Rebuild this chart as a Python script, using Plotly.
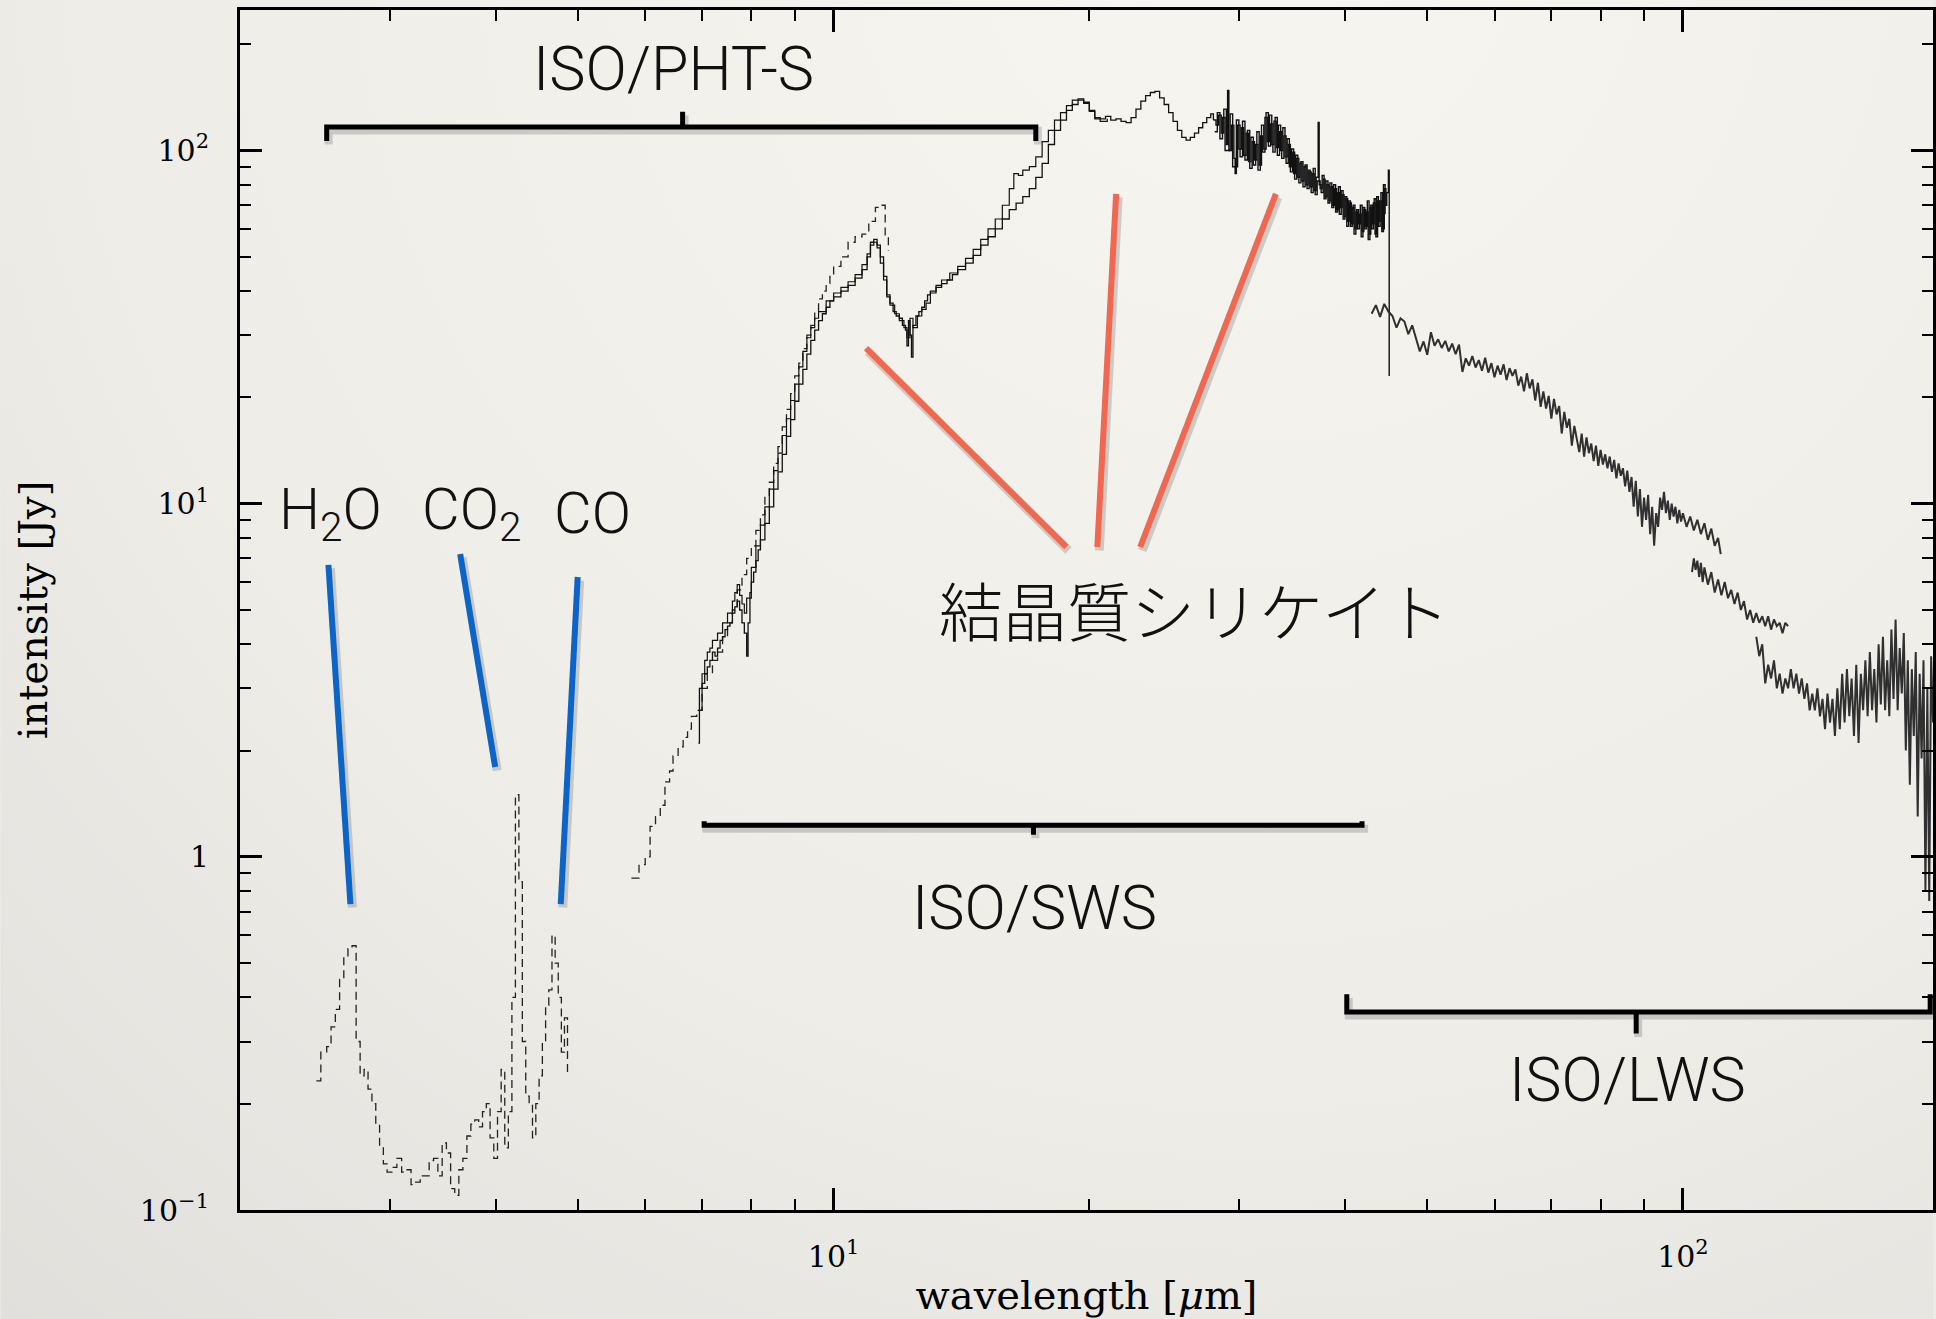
import base64
import numpy as np
import plotly.graph_objects as go

# ---------------------------------------------------------------
# ISO spectrum: wavelength [um] against flux density [Jy]
# ---------------------------------------------------------------

# PHT-S, short-wavelength channel (2.5 - 4.9 um)
phts_ss_wl = [2.46, 2.49, 2.53, 2.56, 2.59, 2.62, 2.65, 2.68, 2.71, 2.74,
              2.77, 2.80, 2.83, 2.86, 2.89, 2.92, 2.95, 2.98, 3.02, 3.06,
              3.10, 3.14, 3.18, 3.22, 3.26, 3.30, 3.34, 3.38, 3.42, 3.46,
              3.50, 3.54, 3.58, 3.62, 3.66, 3.70, 3.74, 3.78, 3.82, 3.86,
              3.90, 3.94, 3.98, 4.02, 4.06, 4.10, 4.14, 4.18, 4.22, 4.26,
              4.30, 4.34, 4.38, 4.42, 4.46, 4.50, 4.54, 4.58, 4.62, 4.66,
              4.70, 4.74, 4.78, 4.82, 4.86]
phts_ss_jy = [0.232, 0.28, 0.29, 0.33, 0.37, 0.45, 0.52, 0.55, 0.56, 0.30,
              0.24, 0.25, 0.22, 0.20, 0.175, 0.15, 0.135, 0.128, 0.132, 0.14,
              0.128, 0.13, 0.118, 0.12, 0.125, 0.125, 0.138, 0.14, 0.125, 0.155,
              0.145, 0.115, 0.11, 0.13, 0.14, 0.162, 0.175, 0.18, 0.172, 0.19,
              0.2, 0.16, 0.14, 0.19, 0.25, 0.15, 0.19, 0.4, 1.5, 0.85,
              0.3, 0.21, 0.2, 0.16, 0.2, 0.24, 0.3, 0.38, 0.42, 0.6,
              0.5, 0.4, 0.28, 0.35, 0.24]

# PHT-S, long-wavelength channel (5.8 - 11.6 um)
phts_sl_wl = [5.78, 5.9, 6.0, 6.08, 6.17, 6.25, 6.33, 6.41, 6.47, 6.56,
              6.65, 6.73, 6.8, 6.9, 7.0, 7.1, 7.2, 7.3, 7.4, 7.5,
              7.6, 7.7, 7.8, 7.9, 8.0, 8.1, 8.2, 8.3, 8.4, 8.5,
              8.6, 8.7, 8.8, 8.9, 9.0, 9.1, 9.2, 9.3, 9.4, 9.5,
              9.6, 9.7, 9.8, 9.9, 10.0, 10.2, 10.4, 10.6, 10.8, 11.0,
              11.2, 11.35, 11.5, 11.6]
phts_sl_jy = [0.87, 0.95, 1.0, 1.22, 1.3, 1.4, 1.63, 1.75, 1.93, 2.05,
              2.18, 2.3, 2.5, 2.6, 3.0, 3.3, 3.6, 3.8, 4.2, 4.6,
              5.0, 5.7, 6.3, 7.0, 7.6, 8.4, 9.3, 10.5, 11.5, 13.0,
              14.5, 16.5, 18.5, 20.5, 23.0, 25.0, 27.5, 30.0, 32.0, 35.0,
              38.0, 40.0, 42.0, 44.0, 47.0, 50.0, 55.0, 57.0, 58.0, 63.0,
              69.0, 70.0, 57.0, 52.0]

# SWS, first scan (6.9 - 28 um)
sws_a_wl = [6.93, 6.95, 7.0, 7.05, 7.1, 7.15, 7.2, 7.25, 7.3, 7.35,
            7.4, 7.45, 7.5, 7.55, 7.6, 7.65, 7.7, 7.75, 7.8, 7.85,
            7.9, 7.93, 7.97, 8.0, 8.05, 8.1, 8.15, 8.2, 8.3, 8.4,
            8.5, 8.6, 8.7, 8.8, 8.9, 9.0, 9.1, 9.2, 9.3, 9.4,
            9.5, 9.6, 9.7, 9.8, 9.9, 10.0, 10.2, 10.4, 10.6, 10.8,
            10.95, 11.05, 11.15, 11.25, 11.35, 11.45, 11.55, 11.65, 11.75, 11.85,
            11.95, 12.05, 12.15, 12.2, 12.25, 12.3, 12.35, 12.4, 12.5, 12.6,
            12.7, 12.8, 12.9, 13.0, 13.2, 13.4, 13.6, 13.8, 14.0, 14.3,
            14.6, 14.9, 15.2, 15.5, 15.8, 16.1, 16.4, 16.7, 17.0, 17.3,
            17.6, 17.9, 18.2, 18.5, 18.8, 19.1, 19.4, 19.7, 20.0, 20.3,
            20.6, 20.9, 21.2, 21.5, 21.8, 22.1, 22.4, 22.7, 23.0, 23.3,
            23.6, 23.9, 24.2, 24.5, 24.8, 25.1, 25.4, 25.7, 26.0, 26.3,
            26.6, 26.9, 27.2, 27.5, 27.8, 28.0]
sws_a_jy = [2.1, 3.0, 3.1, 3.3, 3.45, 3.6, 3.8, 3.7, 3.9, 4.1,
            4.2, 4.4, 4.5, 4.6, 4.9, 5.1, 5.3, 5.0, 4.6, 4.3,
            3.7, 4.6, 5.6, 6.0, 6.4, 6.9, 7.4, 7.9, 8.8, 9.8,
            11.0, 12.3, 13.8, 15.5, 17.3, 19.5, 21.8, 24.0, 26.5, 29.0,
            31.0, 33.0, 34.5, 36.0, 37.5, 38.5, 40.0, 41.5, 43.5, 46.0,
            50.0, 55.0, 56.0, 54.0, 50.0, 44.0, 39.0, 37.0, 35.0, 34.0,
            33.5, 32.0, 31.0, 28.0, 33.0, 30.0, 26.0, 32.0, 34.0, 35.0,
            36.0, 37.5, 39.0, 40.0, 41.0, 42.0, 43.0, 44.5, 46.0, 48.0,
            50.5, 54.0, 57.0, 60.0, 64.0, 68.0, 71.0, 74.0, 78.0, 84.0,
            92.0, 104.0, 114.0, 122.0, 130.0, 135.0, 139.0, 137.0, 130.0, 124.0,
            123.0, 125.0, 122.0, 123.0, 121.0, 120.0, 124.0, 131.0, 138.0, 143.0,
            146.0, 147.0, 141.0, 135.0, 128.0, 121.0, 114.0, 109.0, 107.0, 109.0,
            112.0, 116.0, 120.0, 124.0, 127.0, 122.0]

# SWS, second scan (6.9 - 21 um)
sws_b_wl = [6.95, 7.0, 7.05, 7.1, 7.15, 7.2, 7.3, 7.4, 7.5, 7.6,
            7.65, 7.7, 7.75, 7.8, 7.85, 7.9, 8.0, 8.1, 8.2, 8.3,
            8.4, 8.5, 8.6, 8.7, 8.8, 8.9, 9.0, 9.1, 9.2, 9.3,
            9.4, 9.5, 9.6, 9.8, 10.0, 10.2, 10.4, 10.6, 10.8, 10.95,
            11.05, 11.15, 11.25, 11.35, 11.45, 11.55, 11.65, 11.8, 11.95, 12.1,
            12.2, 12.3, 12.4, 12.55, 12.7, 12.85, 13.0, 13.2, 13.4, 13.7,
            14.0, 14.3, 14.6, 14.9, 15.2, 15.5, 15.8, 16.1, 16.3, 16.5,
            16.7, 17.0, 17.3, 17.6, 17.9, 18.2, 18.5, 18.8, 19.1, 19.4,
            19.7, 20.0, 20.3, 20.6, 21.0]
sws_b_jy = [2.6, 3.3, 3.6, 3.8, 3.9, 4.1, 4.3, 4.6, 4.9, 5.3,
            5.6, 5.9, 5.5, 5.2, 4.9, 5.4, 6.6, 7.6, 8.7, 9.8,
            11.0, 12.4, 13.9, 15.6, 17.4, 19.6, 21.8, 24.4, 27.0, 29.5,
            31.5, 33.5, 35.0, 37.5, 39.5, 41.0, 42.5, 44.5, 47.5, 51.0,
            54.0, 55.0, 53.0, 48.0, 43.0, 38.5, 36.5, 34.5, 33.0, 31.5,
            29.5, 33.5, 31.5, 34.0, 35.5, 37.0, 39.5, 41.5, 43.0, 45.0,
            47.0, 49.5, 52.5, 56.0, 60.0, 64.0, 70.0, 78.0, 86.0, 85.0,
            88.0, 90.0, 96.0, 106.0, 114.0, 122.0, 128.0, 134.0, 139.0, 140.0,
            136.0, 129.0, 123.0, 121.0, 123.0]

# SWS band 4 (28 - 45 um), two noisy scans
sws_b4a_wl = [28.0, 28.2, 28.4, 28.6, 28.8, 29.0, 29.1, 29.2, 29.4, 29.6,
              29.7, 29.8, 30.0, 30.2, 30.4, 30.6, 30.8, 31.0, 31.2, 31.4,
              31.6, 31.8, 32.0, 32.2, 32.4, 32.6, 32.8, 33.0, 33.2, 33.4,
              33.6, 33.8, 34.0, 34.2, 34.4, 34.6, 34.8, 35.0, 35.2, 35.4,
              35.6, 35.8, 36.0, 36.2, 36.4, 36.6, 36.8, 37.0, 37.2, 37.3,
              37.5, 37.7, 37.9, 38.1, 38.3, 38.5, 38.7, 38.9, 39.1, 39.3,
              39.5, 39.7, 39.9, 40.1, 40.3, 40.5, 40.7, 40.9, 41.1, 41.3,
              41.5, 41.7, 41.9, 42.1, 42.3, 42.5, 42.7, 42.9, 43.1, 43.3,
              43.5, 43.7, 43.9, 44.1, 44.3, 44.5, 44.7, 44.8, 45.0, 45.1]
sws_b4a_jy = [122, 118, 126, 112, 131, 104, 148, 100, 118, 95,
              86, 122, 101, 116, 97, 112, 93, 109, 91, 104,
              88, 110, 99, 124, 106, 126, 104, 121, 102, 118,
              100, 116, 96, 108, 90, 101, 86, 97, 84, 92,
              82, 90, 80, 88, 79, 86, 77, 84, 120, 80,
              76, 83, 74, 80, 72, 79, 70, 78, 68, 79,
              69, 75, 65, 73, 63, 71, 62, 70, 60, 68,
              62, 70, 59, 68, 61, 72, 58, 70, 62, 73,
              57, 72, 63, 76, 60, 78, 70, 76, 88, 23]
sws_b4b_wl = [28.1, 28.3, 28.5, 28.7, 28.9, 29.3, 29.5, 29.9, 30.1, 30.3,
              30.5, 30.7, 30.9, 31.1, 31.3, 31.5, 31.7, 31.9, 32.1, 32.3,
              32.5, 32.7, 32.9, 33.1, 33.3, 33.5, 33.7, 33.9, 34.1, 34.3,
              34.5, 34.7, 34.9, 35.1, 35.3, 35.5, 35.7, 35.9, 36.1, 36.3,
              36.5, 36.7, 36.9, 37.1, 37.4, 37.6, 37.8, 38.0, 38.2, 38.4,
              38.6, 38.8, 39.0, 39.2, 39.4, 39.6, 39.8, 40.0, 40.2, 40.4,
              40.6, 40.8, 41.0, 41.2, 41.4, 41.6, 41.8, 42.0, 42.2, 42.4,
              42.6, 42.8, 43.0, 43.2, 43.4, 43.6, 43.8, 44.0, 44.2, 44.4,
              44.6]
sws_b4b_jy = [113, 128, 108, 124, 100, 127, 90, 118, 96, 121,
              94, 114, 89, 106, 94, 113, 91, 118, 101, 128,
              103, 119, 99, 124, 97, 113, 95, 110, 92, 104,
              87, 99, 83, 95, 81, 93, 79, 91, 78, 87,
              76, 89, 75, 82, 78, 85, 73, 82, 71, 81,
              69, 80, 67, 76, 66, 77, 64, 74, 61, 72,
              61, 69, 58, 67, 60, 66, 57, 69, 60, 67,
              56, 69, 60, 71, 58, 74, 61, 72, 59, 80,
              66]

# LWS detectors (43 - 197 um)
lws1_wl = [43.0, 43.5, 44.0, 44.5, 45.0, 45.5, 46.0, 46.5, 47.0, 47.5,
           48.0, 48.5, 49.0, 49.5, 50.0, 50.5, 51.0, 51.5, 52.0, 52.5,
           53.0, 53.5, 54.0, 54.5, 55.0, 55.5, 56.0, 56.5, 57.0, 57.5,
           58.0, 58.5, 59.0, 59.5, 60.0, 60.5, 61.0, 61.5, 62.0, 62.5,
           63.0, 63.5, 64.0, 64.5, 65.0, 65.5, 66.0, 66.5, 67.0, 67.5,
           68.0, 68.5, 69.0, 69.5, 70.0, 70.5, 71.0, 71.5, 72.0, 72.5,
           73.0, 73.5, 74.0, 74.5, 75.0, 75.5, 76.0, 76.5, 77.0, 77.5,
           78.0, 78.5, 79.0, 79.5, 80.0, 80.5, 81.0, 81.5, 82.0, 82.5,
           83.0, 83.5, 84.0, 84.5, 85.0, 85.5, 86.0, 86.5, 87.0, 87.5,
           88.0, 88.5, 89.0, 89.5, 90.0, 90.5, 91.0, 91.5, 92.0, 92.5,
           93.0, 93.5, 94.0, 94.5, 95.0, 95.5, 96.0, 96.5, 97.0, 97.5,
           98.0, 98.5, 99.0, 99.5, 100.0, 101.0, 102.0, 103.0, 104.0, 105.0,
           106.0, 107.0, 108.0, 109.0, 110.0, 110.8]
lws1_jy = [34.5, 36.5, 33.8, 36.8, 35.0, 34.0, 31.5, 33.5, 32.8, 30.2,
           32.0, 29.5, 27.0, 28.8, 26.4, 30.6, 28.0, 29.2, 27.6, 28.9,
           27.0, 28.4, 26.5, 28.2, 23.6, 25.8, 24.6, 26.2, 24.3, 25.5,
           23.8, 25.9, 23.5, 25.0, 22.8, 24.6, 23.2, 24.8, 22.4, 24.2,
           23.0, 24.0, 21.6, 22.9, 20.8, 23.4, 21.2, 22.5, 19.6, 22.0,
           18.8, 20.8, 18.6, 20.2, 17.4, 19.8, 17.9, 18.9, 15.8, 18.2,
           16.4, 17.4, 14.6, 16.6, 15.2, 14.0, 15.8, 13.6, 15.4, 13.9,
           14.8, 13.2, 14.6, 12.8, 14.2, 12.9, 13.8, 12.6, 13.6, 12.3,
           13.3, 11.8, 13.0, 12.0, 12.6, 11.2, 12.4, 10.8, 11.9, 9.8,
           11.6, 9.2, 11.0, 8.6, 10.4, 9.0, 10.6, 8.2, 9.8, 7.6,
           9.4, 8.6, 10.4, 9.6, 10.8, 9.4, 10.2, 9.0, 10.0, 9.2,
           9.8, 8.8, 9.6, 8.9, 9.4, 8.6, 9.2, 8.4, 9.0, 8.2,
           8.8, 7.9, 8.5, 7.6, 8.0, 7.2]
lws2_wl = [102.5, 103.0, 103.5, 104.0, 104.5, 105.0, 105.5, 106.0, 107.0, 108.0,
           109.0, 110.0, 111.0, 112.0, 113.0, 114.0, 115.0, 116.0, 117.0, 118.0,
           119.0, 120.0, 121.0, 122.0, 123.0, 124.0, 125.0, 126.0, 127.0, 128.0,
           129.0, 130.0, 131.0, 132.0, 133.0]
lws2_jy = [6.4, 7.0, 6.5, 6.9, 6.2, 6.8, 6.0, 6.6, 5.9, 6.4,
           5.6, 6.1, 5.5, 6.0, 5.4, 5.7, 5.2, 5.6, 5.0, 5.3,
           4.7, 5.0, 4.6, 4.9, 4.6, 4.8, 4.5, 4.8, 4.4, 4.7,
           4.5, 4.6, 4.3, 4.6, 4.5]
lws3_wl = [122.0, 123.0, 124.0, 125.0, 126.0, 127.0, 128.0, 129.0, 130.0, 131.0,
           132.0, 133.0, 134.0, 135.0, 136.0, 137.0, 138.0, 139.0, 140.0, 141.0,
           142.0, 143.0, 144.0, 145.0, 146.0, 147.0, 148.0, 149.0, 150.0, 151.0,
           152.0, 153.0, 154.0, 155.0, 156.0, 157.0, 158.0, 159.0, 160.0, 161.0,
           162.0, 163.0, 164.0, 165.0, 166.0, 167.0, 168.0, 169.0, 170.0, 171.0,
           172.0, 173.0, 174.0, 175.0, 176.0, 177.0, 178.0, 179.0, 180.0, 181.0,
           182.0, 183.0, 184.0, 185.0, 186.0, 187.0, 188.0, 189.0, 190.0, 191.0,
           192.0, 193.0, 194.0, 195.0, 196.0, 197.0]
lws3_jy = [4.2, 3.7, 4.0, 3.1, 3.5, 3.2, 3.6, 3.0, 3.3, 2.9,
           3.2, 3.0, 3.4, 3.0, 3.3, 2.9, 3.2, 2.8, 3.1, 2.6,
           2.9, 2.6, 3.0, 2.5, 2.8, 2.3, 2.9, 2.4, 2.8, 2.2,
           3.0, 2.3, 3.3, 2.4, 3.4, 2.5, 3.2, 2.2, 3.5, 2.1,
           3.3, 2.6, 3.6, 2.5, 3.8, 2.6, 3.4, 2.4, 4.0, 2.7,
           4.2, 2.6, 3.6, 2.5, 4.4, 2.8, 4.7, 2.6, 3.9, 2.9,
           4.3, 2.0, 3.6, 1.6, 3.4, 2.2, 3.8, 1.3, 3.3, 1.9,
           3.6, 0.8, 3.0, 0.75, 3.7, 2.4]

# Instrument coverage braces
bracket_labels = ["ISO/PHT-S", "ISO/SWS", "ISO/LWS"]
bracket_start_um = [2.53, 7.04, 40.2]
bracket_end_um = [17.3, 41.9, 195.5]
bracket_mid_um = [6.64, 17.19, 88.1]
bracket_bar_jy = [116.6, 1.229, 0.3634]
bracket_tip_jy = [106.5, 1.262, 0.408]
bracket_nub_jy = [128.8, 1.155, 0.316]
bracket_label_um = [6.48, 17.24, 86.1]
bracket_label_jy = [170.0, 0.716, 0.2334]

# Ice absorption features
molecule_labels = ["H<sub>2</sub>O", "CO<sub>2</sub>", "CO"]
molecule_label_um = [2.553, 3.75, 5.195]
molecule_label_jy = [9.4, 9.4, 9.4]
molecule_top_um = [2.542, 3.633, 4.996]
molecule_top_jy = [6.71, 7.20, 6.20]
molecule_bottom_um = [2.698, 3.995, 4.772]
molecule_bottom_jy = [0.735, 1.796, 0.735]

# Crystalline silicate emission features
silicate_label = "結晶質シリケイト"
silicate_label_um = 26.6
silicate_label_jy = 5.05
silicate_top_um = [10.92, 21.51, 33.17]
silicate_top_jy = [27.57, 75.4, 75.4]
silicate_bottom_um = [18.80, 20.44, 22.96]
silicate_bottom_jy = [7.54, 7.54, 7.54]

X_RANGE_UM = (2.0, 197.0)
Y_RANGE_JY = (0.1, 250.0)
major_x = [10, 100]
major_x_text = ["10<sup>1</sup>", "10<sup>2</sup>"]
minor_x = [3, 4, 5, 6, 7, 8, 9, 20, 30, 40, 50, 60, 70, 80, 90]
major_y = [0.1, 1, 10, 100]
major_y_text = ["10<sup>\u22121</sup>", "1", "10<sup>1</sup>", "10<sup>2</sup>"]
minor_y = [0.2, 0.3, 0.4, 0.5, 0.6, 0.7, 0.8, 0.9,
           2, 3, 4, 5, 6, 7, 8, 9,
           20, 30, 40, 50, 60, 70, 80, 90, 200]

BLUE = "#0b65c9"
CORAL = "#f2674f"
INK = "#111111"

fig = go.Figure()


def spectrum(wl, jy, color="#111111", width=1.3, dash="solid", shape="hv"):
    fig.add_trace(go.Scatter(x=wl, y=jy, mode="lines", line_shape=shape,
                             line=dict(color=color, width=width, dash=dash),
                             hoverinfo="skip", showlegend=False))


def stroke(xs, ys, color, width, shadow=True):
    if shadow:
        # soft drop shadow a few pixels below/right of the stroke
        sx = [v * 10 ** (2.0 / 851.0) for v in xs]
        sy = [v * 10 ** (-3.5 / 353.0) for v in ys]
        fig.add_trace(go.Scatter(x=sx, y=sy, mode="lines",
                                 line=dict(color="rgba(0,0,0,0.16)", width=width + 3),
                                 hoverinfo="skip", showlegend=False))
    fig.add_trace(go.Scatter(x=xs, y=ys, mode="lines",
                             line=dict(color=color, width=width),
                             hoverinfo="skip", showlegend=False))


# spectra
spectrum(phts_ss_wl, phts_ss_jy, color="#222222", width=1.3, dash="8px,5px")
spectrum(phts_sl_wl, phts_sl_jy, color="#222222", width=1.3, dash="8px,5px")
spectrum(sws_b_wl, sws_b_jy, color="#111111", width=1.2)
spectrum(sws_a_wl, sws_a_jy, color="#111111", width=1.3)
spectrum(sws_b4b_wl, sws_b4b_jy, color="#111111", width=1.4)
spectrum(sws_b4a_wl, sws_b4a_jy, color="#111111", width=1.4)
spectrum(lws1_wl, lws1_jy, color="#303030", width=2.0, shape="linear")
spectrum(lws2_wl, lws2_jy, color="#303030", width=2.0, shape="linear")
spectrum(lws3_wl, lws3_jy, color="#303030", width=2.0, shape="linear")

# instrument braces
for x0, x1, xm, bar, tip, nub in zip(bracket_start_um, bracket_end_um, bracket_mid_um,
                                     bracket_bar_jy, bracket_tip_jy, bracket_nub_jy):
    stroke([x0, x0, xm, xm, xm, x1, x1],
           [tip, bar, bar, nub, bar, bar, tip], "#000000", 5)

# leader lines
for xt, yt, xb, yb in zip(molecule_top_um, molecule_top_jy,
                          molecule_bottom_um, molecule_bottom_jy):
    stroke([xt, xb], [yt, yb], BLUE, 6)
for xt, yt, xb, yb in zip(silicate_top_um, silicate_top_jy,
                          silicate_bottom_um, silicate_bottom_jy):
    stroke([xt, xb], [yt, yb], CORAL, 6)

annotations = []
label_font = dict(family="Roboto", size=61, color=INK, weight=300)
for text, xu, yj in zip(bracket_labels, bracket_label_um, bracket_label_jy):
    annotations.append(dict(x=np.log10(xu), y=np.log10(yj), xref="x", yref="y",
                            text=text, showarrow=False, font=label_font,
                            xanchor="center", yanchor="middle"))
for text, xu, yj in zip(molecule_labels, molecule_label_um, molecule_label_jy):
    annotations.append(dict(x=np.log10(xu), y=np.log10(yj), xref="x", yref="y",
                            text=text, showarrow=False,
                            font=dict(family="Roboto", size=58, color=INK, weight=300),
                            xanchor="center", yanchor="middle"))
annotations.append(dict(x=np.log10(silicate_label_um), y=np.log10(silicate_label_jy),
                        xref="x", yref="y", text=silicate_label, showarrow=False,
                        font=dict(family="Noto Sans CJK JP", size=64, color=INK, weight=300),
                        xanchor="center", yanchor="middle"))

# paper-like background with a soft vignette
svg = ("<svg xmlns='http://www.w3.org/2000/svg' width='1936' height='1319' "
       "viewBox='0 0 1936 1319'><defs><radialGradient id='v' cx='1250' cy='-80' r='1900' "
       "gradientUnits='userSpaceOnUse'><stop offset='0' stop-color='#f7f5f0'/>"
       "<stop offset='0.6' stop-color='#efede8'/><stop offset='1' stop-color='#e0dfdb'/>"
       "</radialGradient></defs><rect width='1936' height='1319' fill='url(#v)'/></svg>")
bg_src = "data:image/svg+xml;base64," + base64.b64encode(svg.encode()).decode()

axis_common = dict(
    type="log", showgrid=False, zeroline=False,
    showline=True, linecolor="black", linewidth=3, mirror="ticks",
    ticks="inside", ticklen=22, tickwidth=2.5, tickcolor="black",
    tickfont=dict(family="DejaVu Serif", size=30, color="black"),
)

fig.update_layout(
    width=1936, height=1319,
    margin=dict(l=240, r=0, t=10, b=109, pad=0),
    paper_bgcolor="#ecebe6", plot_bgcolor="rgba(0,0,0,0)",
    hovermode=False, showlegend=False,
    font=dict(family="DejaVu Serif", color="black"),
    images=[dict(source=bg_src, xref="paper", yref="paper",
                 x=-240 / 1696, y=1 + 10 / 1200, sizex=1936 / 1696, sizey=1319 / 1200,
                 xanchor="left", yanchor="top", sizing="stretch", layer="below")],
    annotations=annotations,
    xaxis=dict(axis_common,
               range=[np.log10(X_RANGE_UM[0]), np.log10(X_RANGE_UM[1])],
               tickmode="array", tickvals=major_x, ticktext=major_x_text,
               ticklabelstandoff=18,
               minor=dict(tickmode="array", tickvals=minor_x, ticks="inside",
                          ticklen=11, tickwidth=2, tickcolor="black", showgrid=False),
               title=dict(text="wavelength [<i>\u03bc</i>m]", standoff=8,
                          font=dict(family="DejaVu Serif", size=40, color="black"))),
    yaxis=dict(axis_common,
               range=[np.log10(Y_RANGE_JY[0]), np.log10(Y_RANGE_JY[1])],
               tickmode="array", tickvals=major_y, ticktext=major_y_text,
               ticklabelstandoff=22,
               minor=dict(tickmode="array", tickvals=minor_y, ticks="inside",
                          ticklen=11, tickwidth=2, tickcolor="black", showgrid=False),
               title=dict(text="intensity [Jy]", standoff=80,
                          font=dict(family="DejaVu Serif", size=40, color="black"))),
)

fig.write_html("out.html", config=dict(displayModeBar=False))
